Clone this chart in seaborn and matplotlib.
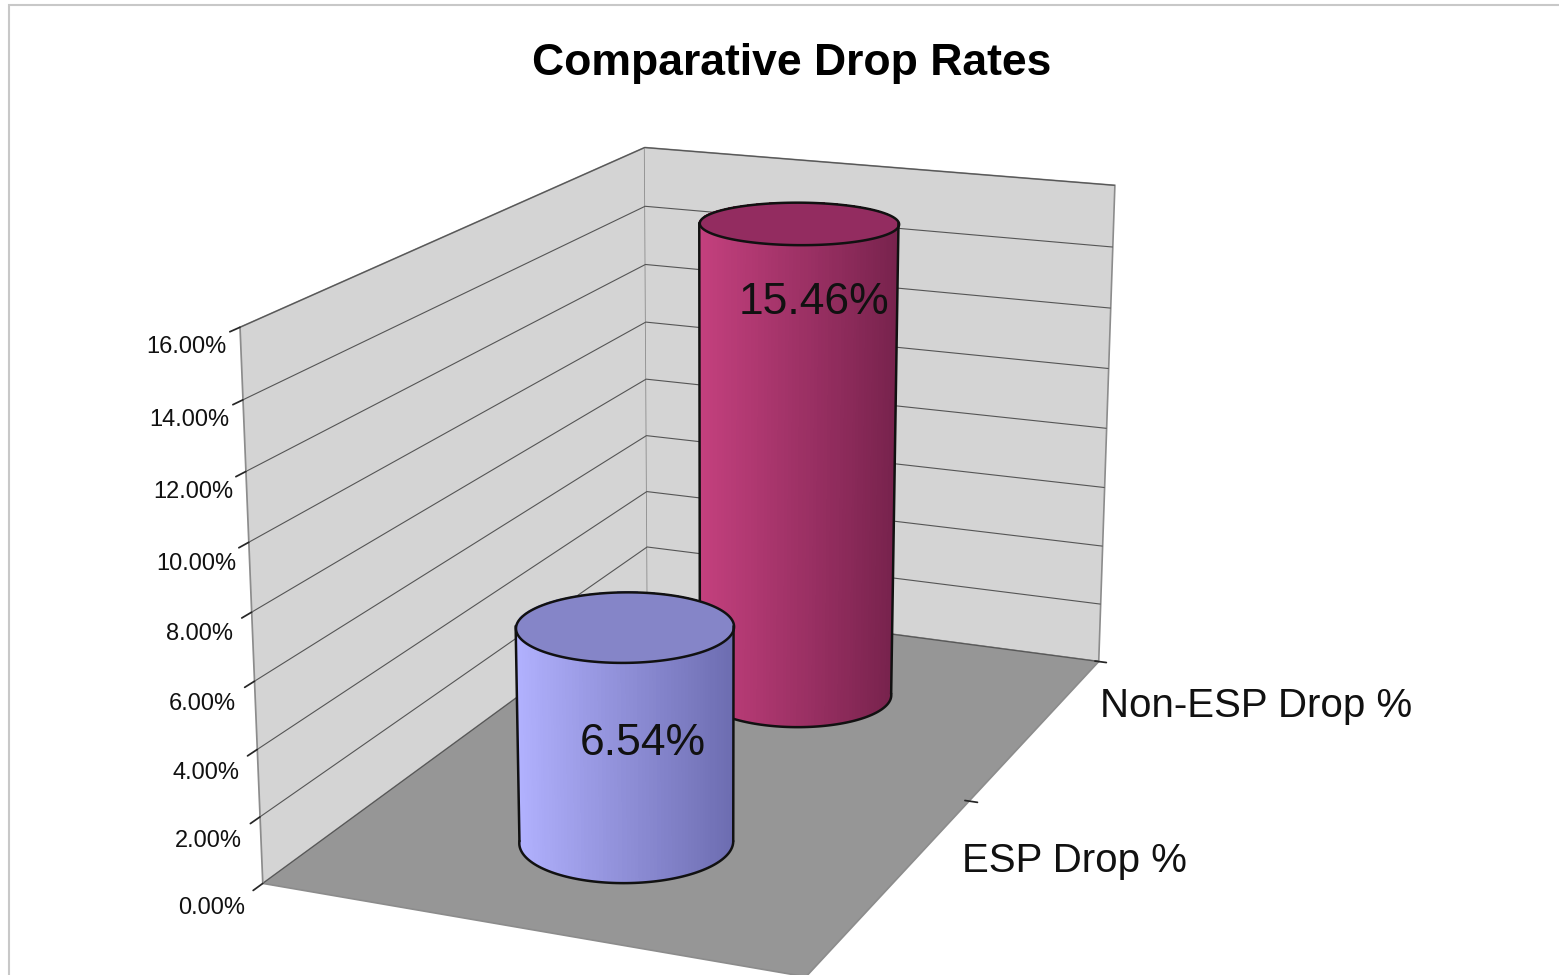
import numpy as np
import matplotlib
matplotlib.use('Agg')
import matplotlib.pyplot as plt
import seaborn as sns
from matplotlib.colors import LinearSegmentedColormap
from matplotlib.patches import Rectangle
from matplotlib.ticker import FuncFormatter
from mpl_toolkits.mplot3d.art3d import Poly3DCollection

# datos
categories = ['ESP Drop %', 'Non-ESP Drop %']
drop_rates = [0.0654, 0.1546]
value_labels = ['6.54%', '15.46%']
z_ticks = [0.00, 0.02, 0.04, 0.06, 0.08, 0.10, 0.12, 0.14, 0.16]

# estilos
side_colors = [('#b2b2ff', '#6c6cb0'), ('#c4407e', '#76224c')]
top_colors = ['#8585c8', '#932c60']
label_frac = [0.47, 0.84]

sns.set_theme(style='white')
plt.rcParams['font.family'] = ['Liberation Sans', 'DejaVu Sans']

ELEV, AZIM = 17, -67.5
X_MAX, Y_MAX = 1.21, 2.0
RADIUS = 0.229

fig = plt.figure(figsize=(15.59, 9.75), dpi=100)
ax = fig.add_axes([-0.05, -0.075, 1.0, 1.07], projection='3d', computed_zorder=False)
ax.set_proj_type('persp', focal_length=0.62)
ax.view_init(elev=ELEV, azim=AZIM)
ax.set_xlim(0, X_MAX)
ax.set_ylim(0, Y_MAX)
ax.set_zlim(0, 0.16)
ax.set_box_aspect((X_MAX, Y_MAX, 1.19), zoom=1.10)

# paredes y piso
wall = '#d4d4d4'
ax.xaxis.set_pane_color(wall)
ax.yaxis.set_pane_color(wall)
ax.zaxis.set_pane_color('#969696')
for a in (ax.xaxis, ax.yaxis, ax.zaxis):
    a.pane.set_edgecolor('#8c8c8c')
    a.pane.set_linewidth(1.2)

ax.set_xticks([])
ax.set_yticks([0, 1, 2])
ax.set_yticklabels(['', '', ''])
ax.set_zticks(z_ticks)
ax.zaxis.set_major_formatter(FuncFormatter(lambda v, p: f'{v*100:.2f}%'))
ax.zaxis.set_ticks_position('lower')
ax.tick_params(axis='z', labelsize=17, pad=12, labelcolor='#111111')
ax.zaxis._axinfo['tick']['inward_factor'] = 0.25
ax.zaxis._axinfo['tick']['outward_factor'] = 0.0
ax.xaxis._axinfo['grid']['color'] = (0, 0, 0, 0)
ax.yaxis._axinfo['grid']['color'] = (0, 0, 0, 0)
ax.zaxis._axinfo['grid']['color'] = '#555555'
ax.zaxis._axinfo['grid']['linewidth'] = 0.8
ax.xaxis.line.set_color((0, 0, 0, 0))
ax.yaxis.line.set_color((0, 0, 0, 0))
ax.zaxis.line.set_color('#8c8c8c')

# cilindros, del fondo hacia adelante
theta = np.linspace(0, 2 * np.pi, 181)
az = np.deg2rad(AZIM)
order = [1, 0]
for k, i in enumerate(order):
    cx, cy, h = X_MAX / 2, i + 0.5, drop_rates[i]
    cmap = LinearSegmentedColormap.from_list('c%d' % i, side_colors[i])
    th, zz = np.meshgrid(theta, [0, h])
    xs = cx + RADIUS * np.cos(th)
    ys = cy + RADIUS * np.sin(th)
    u = np.sin(theta[:-1] - az)
    fc = cmap((u + 1) / 2)[None, :, :]
    ax.plot_surface(xs, ys, zz, facecolors=fc, shade=False, linewidth=0,
                    antialiased=False, rstride=1, cstride=1, zorder=10 + 4 * k)
    top = Poly3DCollection([list(zip(cx + RADIUS * np.cos(theta),
                                     cy + RADIUS * np.sin(theta),
                                     np.full_like(theta, h)))],
                           facecolor=top_colors[i], edgecolor='#111111',
                           linewidth=1.8, zorder=11 + 4 * k)
    ax.add_collection3d(top)
    # contorno visible
    front = np.linspace(az - np.pi / 2, az + np.pi / 2, 91)
    ax.plot(cx + RADIUS * np.cos(front), cy + RADIUS * np.sin(front),
            np.zeros_like(front), color='#111111', lw=1.8, zorder=12 + 4 * k)
    for s in (-1, 1):
        t = az + s * np.pi / 2
        ax.plot([cx + RADIUS * np.cos(t)] * 2, [cy + RADIUS * np.sin(t)] * 2,
                [0, h], color='#111111', lw=1.8, zorder=12 + 4 * k)
    ax.text(cx + 0.04, cy, h * label_frac[i], value_labels[i], fontsize=32,
            ha='center', va='center', color='#111111', zorder=13 + 4 * k)

for i, cat in enumerate(categories):
    ax.text(X_MAX + 0.15, i + 0.5, 0.01, cat, fontsize=29, ha='left',
            va='center', color='#111111', zorder=30)

fig.text(0.508, 0.935, 'Comparative Drop Rates', fontsize=32,
         fontweight='bold', ha='center', va='center', color='black')
fig.patches.append(Rectangle((0.0055, -0.1), 1.2, 1.0945, transform=fig.transFigure,
                             fill=False, edgecolor='#c8c8c8', lw=1.5))

plt.savefig('out.png', dpi=100)
plt.close()
